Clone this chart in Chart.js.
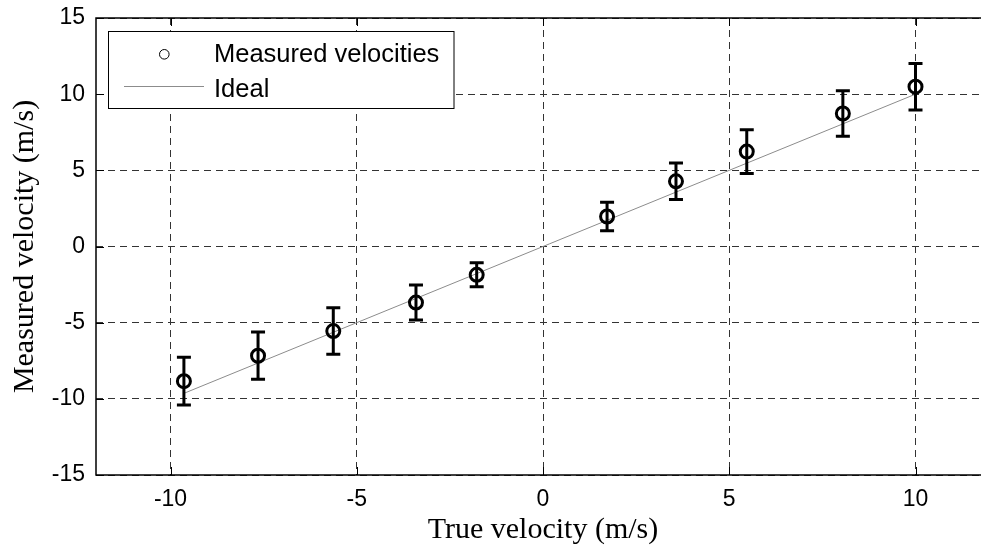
<!DOCTYPE html>
<html lang="en">
<head>
  <meta charset="UTF-8">
  <title>Measured vs true velocity</title>
  <script src="https://cdn.jsdelivr.net/npm/chart.js"></script>
  <style>
    html, body { margin: 0; padding: 0; background: #fff; overflow: hidden; }
    #wrap { width: 981px; height: 551px; overflow: hidden; }
    canvas { display: block; }
  </style>
</head>
<body>
  <div id="wrap"><canvas id="velChart" width="1000" height="551"></canvas></div>
  <script>
    // data
    const trueVel = [-9.64, -7.65, -5.63, -3.41, -1.78, 1.72, 3.57, 5.47, 8.05, 10.0];
    const measVel = [-8.84, -7.17, -5.55, -3.68, -1.86, 1.97, 4.28, 6.23, 8.73, 10.49];
    const errVel  = [1.57, 1.55, 1.53, 1.15, 0.79, 0.94, 1.20, 1.43, 1.50, 1.53];
    const idealX  = [-9.64, 10.0];
    const idealY  = [-9.64, 10.0];
    const xTicks  = [-10, -5, 0, 5, 10];
    const yTicks  = [-15, -10, -5, 0, 5, 10, 15];

    const sans = 'Liberation Sans, Arial, sans-serif';
    const serif = 'Liberation Serif, Times New Roman, serif';

    // error bars, box with inner ticks, and the legend
    const extras = {
      id: 'extras',
      afterDatasetsDraw(chart) {
        const {ctx, scales: {x, y}} = chart;
        ctx.save();
        ctx.strokeStyle = '#000';
        ctx.lineWidth = 3;
        trueVel.forEach((tv, i) => {
          const px = x.getPixelForValue(tv);
          const top = y.getPixelForValue(measVel[i] + errVel[i]);
          const bot = y.getPixelForValue(measVel[i] - errVel[i]);
          ctx.beginPath();
          ctx.moveTo(px, top); ctx.lineTo(px, bot);
          ctx.moveTo(px - 7, top); ctx.lineTo(px + 7, top);
          ctx.moveTo(px - 7, bot); ctx.lineTo(px + 7, bot);
          ctx.stroke();
        });
        ctx.restore();
      },
      afterDraw(chart) {
        const {ctx, chartArea: a, scales: {x, y}} = chart;
        ctx.save();
        // frame (right edge falls outside the window, as in the original)
        ctx.strokeStyle = '#000';
        ctx.lineWidth = 1.5;
        ctx.strokeRect(a.left, a.top, a.right - a.left, a.bottom - a.top);
        // inner ticks
        ctx.lineWidth = 1;
        ctx.beginPath();
        xTicks.forEach(v => {
          const px = Math.round(x.getPixelForValue(v)) + 0.5;
          ctx.moveTo(px, a.bottom); ctx.lineTo(px, a.bottom - 8);
          ctx.moveTo(px, a.top); ctx.lineTo(px, a.top + 8);
        });
        yTicks.forEach(v => {
          const py = Math.round(y.getPixelForValue(v)) + 0.5;
          ctx.moveTo(a.left, py); ctx.lineTo(a.left + 8, py);
          ctx.moveTo(a.right, py); ctx.lineTo(a.right - 8, py);
        });
        ctx.stroke();

        // legend
        ctx.fillStyle = '#fff';
        ctx.fillRect(108.5, 31.5, 345.5, 77);
        ctx.strokeStyle = '#000';
        ctx.lineWidth = 1;
        ctx.strokeRect(108.5, 31.5, 345.5, 77);
        ctx.beginPath();
        ctx.arc(164.3, 54.3, 4.8, 0, Math.PI * 2);
        ctx.stroke();
        ctx.strokeStyle = '#8c8c8c';
        ctx.beginPath();
        ctx.moveTo(124, 86.5); ctx.lineTo(204, 86.5);
        ctx.stroke();
        ctx.fillStyle = '#000';
        ctx.font = '25.5px ' + sans;
        ctx.textBaseline = 'alphabetic';
        ctx.textAlign = 'left';
        ctx.fillText('Measured velocities', 214, 61.7);
        ctx.fillText('Ideal', 214, 96.7);
        ctx.restore();
      }
    };

    new Chart(document.getElementById('velChart'), {
      type: 'scatter',
      data: {
        datasets: [
          {
            label: 'Ideal',
            data: idealX.map((v, i) => ({x: v, y: idealY[i]})),
            showLine: true,
            borderColor: '#8c8c8c',
            borderWidth: 1,
            pointRadius: 0,
            order: 2
          },
          {
            label: 'Measured velocities',
            data: trueVel.map((v, i) => ({x: v, y: measVel[i]})),
            showLine: false,
            pointStyle: 'circle',
            pointRadius: 6.5,
            pointBorderWidth: 3,
            borderColor: '#000',
            backgroundColor: 'rgba(0,0,0,0)',
            order: 1
          }
        ]
      },
      options: {
        responsive: false,
        devicePixelRatio: 1,
        animation: false,
        layout: { padding: { left: 0, top: 18, right: 10, bottom: 0 } },
        plugins: { legend: { display: false }, tooltip: { enabled: false } },
        scales: {
          x: {
            type: 'linear',
            min: -12,
            max: 12,
            afterBuildTicks: s => { s.ticks = xTicks.map(v => ({value: v})); },
            afterFit: s => { s.height = 76; s.paddingLeft = 0; s.paddingRight = 0; },
            ticks: {
              padding: 11,
              color: '#000',
              font: { family: sans, size: 23 },
              callback: v => String(v)
            },
            grid: { color: '#333', lineWidth: 1, drawTicks: false },
            border: { display: false, dash: [7, 5] },
            title: {
              display: true,
              text: 'True velocity (m/s)',
              color: '#000',
              font: { family: serif, size: 30, lineHeight: 1.2 },
              padding: { top: 0, bottom: 3 }
            }
          },
          y: {
            type: 'linear',
            min: -15,
            max: 15,
            afterBuildTicks: s => { s.ticks = yTicks.map(v => ({value: v})); },
            afterFit: s => { s.width = 96; s.paddingTop = 0; s.paddingBottom = 0; },
            ticks: {
              padding: 11,
              color: '#000',
              font: { family: sans, size: 23 },
              callback: v => String(v)
            },
            grid: { color: '#333', lineWidth: 1, drawTicks: false },
            border: { display: false, dash: [7, 5] },
            title: {
              display: true,
              text: 'Measured velocity (m/s)',
              color: '#000',
              font: { family: serif, size: 30, lineHeight: 1.2 },
              padding: { top: 7, bottom: 0 }
            }
          }
        }
      },
      plugins: [extras]
    });
  </script>
</body>
</html>
